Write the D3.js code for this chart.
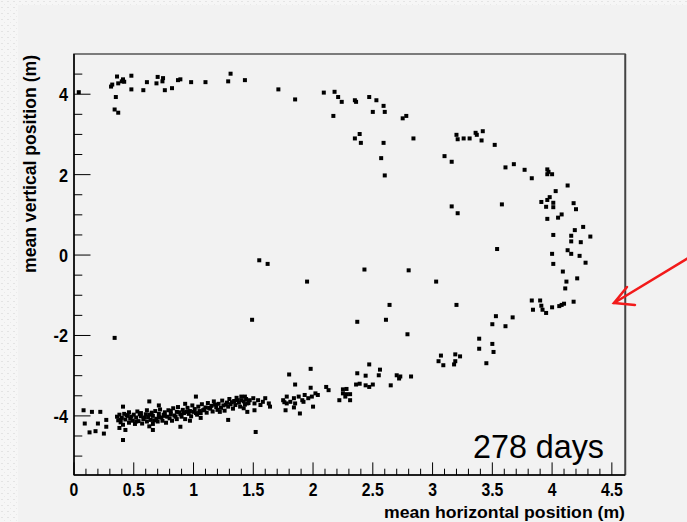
<!DOCTYPE html>
<html><head><meta charset="utf-8">
<script src="https://cdn.jsdelivr.net/npm/d3@7"></script>
<style>
html,body{margin:0;padding:0;background:#f2f2f2;}
svg{display:block;}
</style></head>
<body>
<script>
// ---- data (metres) ----
const xTicks = [0,0.5,1,1.5,2,2.5,3,3.5,4,4.5];
const xTickLabels = ["0","0.5","1","1.5","2","2.5","3","3.5","4","4.5"];
const yTicks = [-4,-2,0,2,4];
const yTickLabels = ["-4","-2","0","2","4"];
const xLabel = "mean horizontal position (m)";
const yLabel = "mean vertical position (m)";
const annotation = "278 days";

// upper arc (vertical ~ +4)
const topArc = [[0.04,4.05],[0.31,4.19],[0.32,4.24],[0.36,4.44],[0.37,4.27],[0.40,4.32],[0.41,4.37],[0.42,4.31],
[0.35,3.93],[0.34,3.62],[0.37,3.54],[0.48,4.46],[0.48,4.12],[0.58,4.10],[0.61,4.30],[0.69,4.27],[0.70,4.43],
[0.74,4.32],[0.745,4.40],[0.76,4.10],[0.82,4.15],[0.87,4.35],[0.89,4.37],[0.98,4.30],[1.10,4.30],[1.29,4.32],
[1.31,4.51],[1.43,4.35],[1.71,4.12],[1.85,3.87],[2.09,4.04],[2.17,3.46],[2.18,4.06],[2.21,3.93],[2.24,3.81],
[2.35,3.85],[2.36,3.81],[2.35,2.90],[2.39,3.01],[2.40,2.79],[2.47,3.93],[2.50,3.56],[2.53,3.85],[2.59,3.71],
[2.60,3.56],[2.59,2.79],[2.57,2.41],[2.60,1.98],[2.75,3.40],[2.78,3.46],[2.84,2.90]];

// right-hand turn
const rightArc = [[3.10,2.46],[3.16,2.32],[3.16,1.21],[3.21,1.04],[3.20,2.99],[3.21,2.88],[3.26,2.90],[3.31,2.90],
[3.36,3.04],[3.37,2.99],[3.42,3.08],[3.41,2.85],[3.52,2.74],[3.58,1.26],[3.61,2.18],[3.68,2.26],[3.77,2.12],
[3.83,1.91],[3.96,2.13],[3.97,2.07],[3.96,2.01],[4.00,2.01],[4.13,1.73],[4.03,1.59],[3.91,1.32],[3.96,1.37],
[3.98,1.44],[3.95,1.20],[4.01,1.30],[4.01,1.19],[4.18,1.29],[4.20,1.14],[3.96,0.90],[4.05,0.93],[4.08,1.01],
[4.01,0.50],[4.16,0.48],[4.19,0.62],[4.26,0.70],[4.32,0.46],[4.16,0.34],[4.24,0.32],[3.54,0.15],[4.00,0.03],
[4.13,0.12],[4.16,0.03],[4.23,-0.02],[4.28,-0.19],[4.01,-0.22],[4.09,-0.41],[4.21,-0.58],[4.12,-0.66],[4.11,-0.83],
[3.83,-1.13],[3.90,-1.13],[3.84,-1.36],[3.91,-1.26],[3.92,-1.36],[3.95,-1.44],[4.00,-1.30],[4.06,-1.27],
[4.08,-1.24],[4.10,-1.21],[4.18,-1.16],[3.53,-1.52],[3.67,-1.55],[3.50,-1.72],[3.61,-1.77],[3.39,-2.08],
[3.39,-2.33],[3.50,-2.21],[3.51,-2.41],[3.45,-2.69],[3.07,-2.50],[3.05,-2.64],[3.09,-2.74],[3.19,-2.47],
[3.23,-2.52],[3.19,-2.64],[3.18,-2.72]];

// isolated points in the middle
const strays = [[2.43,-0.36],[2.80,-0.38],[3.03,-0.66],[2.64,-1.24],[3.20,-1.24],[2.37,-1.66],[2.61,-1.61],
[2.79,-1.97],[1.55,-0.13],[1.62,-0.22],[1.95,-0.66],[1.49,-1.61],[0.34,-2.06]];

// lower branch (vertical ~ -3 .. -4.5)
const lowerArc = [[1.80,-2.97],[1.98,-2.83],[2.37,-2.94],[2.47,-2.72],[2.44,-3.00],[2.56,-2.85],[2.55,-2.99],
[2.70,-2.99],[2.72,-3.07],[2.73,-3.02],[2.82,-3.02],[1.85,-3.22],[1.98,-3.30],[2.11,-3.28],[2.13,-3.36],
[2.36,-3.22],[2.39,-3.20],[2.44,-3.24],[2.47,-3.28],[2.50,-3.22],[2.65,-3.24],[2.25,-3.34],[2.28,-3.33],
[2.25,-3.44],[2.28,-3.46],[2.31,-3.46],[2.27,-3.52],[2.22,-3.61],[2.31,-3.61],[1.02,-3.52],[0.63,-3.64],
[0.08,-3.86],[0.15,-3.90],[0.22,-3.90],[0.09,-4.19],[0.20,-4.19],[0.27,-4.10],[0.27,-4.27],[0.13,-4.41],
[0.18,-4.38],[0.25,-4.44],[0.41,-3.77],[0.38,-4.30],[0.43,-4.35],[0.41,-4.60],[0.66,-4.35],[0.89,-4.27],
[1.29,-4.10],[1.52,-4.40],
[1.40,-3.61],[1.43,-3.52],[1.45,-3.69],[1.47,-3.61],[1.50,-3.56],[1.51,-3.69],[1.54,-3.61],[1.56,-3.73],
[1.58,-3.65],[1.60,-3.56],[1.63,-3.69],[1.64,-3.77],[1.45,-3.90],[1.51,-3.86],[1.42,-3.81],
[1.75,-3.61],[1.78,-3.52],[1.81,-3.65],[1.84,-3.56],[1.88,-3.52],[1.91,-3.61],[1.93,-3.48],[1.96,-3.56],
[1.99,-3.52],[2.02,-3.44],[2.04,-3.48],[1.78,-3.69],[1.85,-3.69],[1.92,-3.65],[1.76,-3.66],[1.77,-3.86],
[1.84,-3.79],[1.89,-3.94],[2.00,-3.77]];

// dense band near the bottom left
const band = [
[0.36,-4.02],[0.37,-4.11],[0.38,-3.97],[0.39,-4.16],[0.40,-4.05],[0.41,-4.22],[0.42,-3.95],[0.43,-4.09],
[0.45,-4.00],[0.46,-4.17],[0.46,-3.91],[0.47,-4.07],[0.49,-4.12],[0.50,-3.97],[0.51,-4.20],[0.52,-4.04],
[0.53,-3.89],[0.54,-4.13],[0.56,-4.01],[0.56,-3.93],[0.57,-4.19],[0.58,-4.08],[0.60,-3.96],[0.61,-4.14],
[0.61,-3.86],[0.62,-4.03],[0.64,-4.10],[0.65,-3.92],[0.66,-4.20],[0.66,-4.00],[0.68,-3.88],[0.69,-4.07],
[0.70,-4.14],[0.71,-3.95],[0.72,-3.84],[0.73,-4.04],[0.74,-4.12],[0.76,-3.91],[0.76,-4.00],[0.77,-4.17],
[0.79,-3.86],[0.80,-4.06],[0.81,-3.96],[0.82,-4.12],[0.83,-3.81],[0.84,-3.99],[0.86,-3.90],[0.86,-4.08],
[0.87,-3.78],[0.89,-3.96],[0.90,-4.02],[0.91,-3.85],[0.92,-3.93],[0.93,-4.08],[0.95,-3.80],[0.96,-3.95],
[0.97,-3.88],[0.98,-4.01],[0.99,-3.74],[1.00,-3.90],[1.01,-3.83],[1.03,-3.97],[1.04,-3.77],[1.05,-3.88],
[1.06,-3.93],[1.07,-3.71],[1.09,-3.84],[1.10,-3.79],[1.11,-3.92],[1.12,-3.68],[1.14,-3.82],[1.15,-3.75],
[1.16,-3.89],[1.17,-3.64],[1.19,-3.78],[1.20,-3.85],[1.21,-3.70],[1.23,-3.80],[1.24,-3.62],[1.25,-3.74],
[1.26,-3.87],[1.28,-3.67],[1.29,-3.77],[1.30,-3.58],[1.31,-3.71],[1.33,-3.82],[1.34,-3.63],[1.35,-3.73],
[1.36,-3.55],[1.38,-3.67],[1.39,-3.77],[1.40,-3.52],[1.42,-3.64],[1.43,-3.72],[1.44,-3.58],[1.46,-3.68],
[0.39,-4.09],[0.44,-3.98],[0.48,-4.02],[0.52,-4.14],[0.55,-3.96],[0.59,-4.04],[0.63,-3.97],[0.67,-4.11],
[0.71,-4.03],[0.75,-3.97],[0.78,-4.02],[0.81,-3.88],[0.85,-4.02],[0.88,-3.91],[0.94,-3.90],[0.97,-4.12],
[1.02,-3.93],[1.08,-3.86],[1.13,-3.80],[1.18,-3.72],[1.22,-3.90],[1.27,-3.72],[1.32,-3.66],[1.37,-3.61],
[0.71,-3.74],[0.63,-4.26],[1.06,-4.05],[0.93,-3.70]];

const allPoints = [].concat(topArc, rightArc, strays, lowerArc, band);

// ---- drawing ----
const W = 687, H = 522;
const svg = d3.select("body").append("svg").attr("width", W).attr("height", H);
const FONT = "Liberation Sans, Arial, Helvetica, sans-serif";

// slide-like textured border on left and top
const defs = svg.append("defs");
const pat = defs.append("pattern").attr("id","tex").attr("width",6).attr("height",6).attr("patternUnits","userSpaceOnUse");
pat.append("rect").attr("width",6).attr("height",6).attr("fill","#f6f6f6");
pat.append("rect").attr("x",1).attr("y",1).attr("width",2).attr("height",1).attr("fill","#e4e4e4");
pat.append("rect").attr("x",4).attr("y",4).attr("width",1).attr("height",1).attr("fill","#e9e9e9");
svg.append("rect").attr("width",W).attr("height",H).attr("fill","#f2f2f2");
svg.append("rect").attr("x",0).attr("y",0).attr("width",18).attr("height",H).attr("fill","url(#tex)");
svg.append("rect").attr("x",0).attr("y",0).attr("width",W).attr("height",5).attr("fill","url(#tex)");

const x = d3.scaleLinear().domain([0, 4.61]).range([74, 625]);
const y = d3.scaleLinear().domain([-5.47, 5.0]).range([475, 54]);

const x0 = x.range()[0], x1 = x.range()[1], y0 = y.range()[0], y1 = y.range()[1];

// frame
svg.append("rect").attr("x", x0).attr("y", y1).attr("width", x1 - x0).attr("height", y0 - y1)
  .attr("fill", "#f2f2f2").attr("stroke", "#555").attr("stroke-width", 1.5);
svg.append("line").attr("x1", x1 + 0.5).attr("x2", x1 + 0.5).attr("y1", y1).attr("y2", y0)
  .attr("stroke", "#444").attr("stroke-width", 1.5);

function condense(sel, f) {
  sel.each(function () {
    const len = this.getComputedTextLength();
    d3.select(this).attr("textLength", len * f).attr("lengthAdjust", "spacingAndGlyphs");
  });
}

// x ticks (inward)
const xMinor = d3.range(0, 46).map(i => i / 10).filter(v => Math.round(v * 10) % 5 !== 0);
const gx = svg.append("g");
gx.selectAll("line.minor").data(xMinor).join("line")
  .attr("x1", d => x(d)).attr("x2", d => x(d)).attr("y1", y0).attr("y2", y0 - 6.3)
  .attr("stroke", "#000").attr("stroke-width", 1);
gx.selectAll("line.major").data(xTicks).join("line")
  .attr("x1", d => x(d)).attr("x2", d => x(d)).attr("y1", y0).attr("y2", y0 - 12.6)
  .attr("stroke", "#000").attr("stroke-width", 1);
const xt = gx.selectAll("text").data(xTicks).join("text")
  .attr("x", d => x(d)).attr("y", 496).attr("text-anchor", "middle")
  .attr("font-family", FONT).attr("font-weight", "bold").attr("font-size", 17.5)
  .text((d, i) => xTickLabels[i]);
condense(xt, 0.9);

// y ticks (inward)
const yMinor = d3.range(-10, 10).map(i => i / 2).filter(v => v % 2 !== 0 && v >= -5.4 && v <= 4.9);
const gy = svg.append("g");
gy.selectAll("line.minor").data(yMinor).join("line")
  .attr("x1", x0).attr("x2", x0 + 8.3).attr("y1", d => y(d)).attr("y2", d => y(d))
  .attr("stroke", "#000").attr("stroke-width", 1);
gy.selectAll("line.major").data(yTicks).join("line")
  .attr("x1", x0).attr("x2", x0 + 16.5).attr("y1", d => y(d)).attr("y2", d => y(d))
  .attr("stroke", "#000").attr("stroke-width", 1);
const yt = gy.selectAll("text").data(yTicks).join("text")
  .attr("x", 68).attr("y", d => y(d) + 7).attr("text-anchor", "end")
  .attr("font-family", FONT).attr("font-weight", "bold").attr("font-size", 18.5)
  .text((d, i) => yTickLabels[i]);
condense(yt, 0.88);

// axis lines
svg.append("line").attr("x1", x0).attr("x2", x1).attr("y1", y0).attr("y2", y0).attr("stroke", "#000").attr("stroke-width", 1.5);
svg.append("line").attr("x1", x0).attr("x2", x0).attr("y1", y0).attr("y2", y1).attr("stroke", "#000").attr("stroke-width", 1.5);

// axis titles
svg.append("text").attr("x", x1).attr("y", 518).attr("text-anchor", "end")
  .attr("font-family", FONT).attr("font-weight", "bold").attr("font-size", 17)
  .attr("textLength", 241).attr("lengthAdjust", "spacingAndGlyphs")
  .text(xLabel);
svg.append("text").attr("transform", `translate(36,${y1 + 1}) rotate(-90)`).attr("text-anchor", "end")
  .attr("font-family", FONT).attr("font-weight", "bold").attr("font-size", 17.5)
  .attr("textLength", 218).attr("lengthAdjust", "spacingAndGlyphs")
  .text(yLabel);

// markers
const s = 4;
svg.append("g").selectAll("rect").data(allPoints).join("rect")
  .attr("x", d => x(d[0]) - s / 2).attr("y", d => y(d[1]) - s / 2)
  .attr("width", s).attr("height", s).attr("fill", "#000");

// "278 days"
svg.append("text").attr("x", 604).attr("y", 458).attr("text-anchor", "end")
  .attr("font-family", FONT).attr("font-size", 34)
  .attr("textLength", 131).attr("lengthAdjust", "spacingAndGlyphs")
  .text(annotation);

// red arrow annotation
const arrow = svg.append("g").attr("stroke", "#f21a1a").attr("stroke-width", 2.5).attr("fill", "none").attr("stroke-linecap", "round");
arrow.append("line").attr("x1", 690).attr("y1", 257).attr("x2", 614).attr("y2", 303);
arrow.append("polyline").attr("points", "627,287 614,303 635,305");
</script>
</body></html>
